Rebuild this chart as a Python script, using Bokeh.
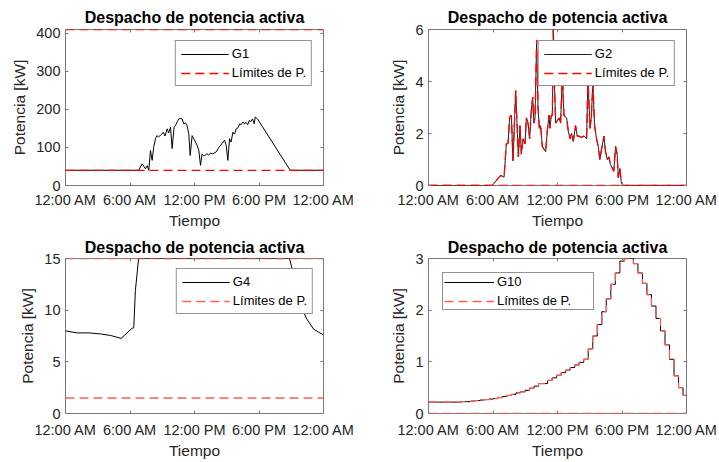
from bokeh.plotting import figure
from bokeh.models import Range1d, FixedTicker, LinearAxis, Legend, LegendItem
from bokeh.layouts import column, row
from bokeh.embed import file_html
from bokeh.resources import INLINE

# ---------------- data ----------------
day_span = [0, 24]
tick_hours = [0, 6, 12, 18, 24]
tick_labels = ["12:00 AM", "6:00 AM", "12:00 PM", "6:00 PM", "12:00 AM"]
title_text = "Despacho de potencia activa"
limit_label = "L\u00edmites de P."

# G1
g1_limits = [40, 410]
g1_hours = [0, 6.8, 7.13, 7.44, 7.6, 7.75, 7.9, 8.06, 8.2, 8.37, 8.5, 8.65, 8.8, 8.95,
            9.1, 9.25, 9.46, 9.6, 9.77, 9.92, 10.1, 10.23, 10.4, 10.54, 10.7, 10.85,
            11.0, 11.15, 11.3, 11.47, 11.6, 11.78, 11.95, 12.1, 12.25, 12.4, 12.56,
            12.7, 12.85, 13.0, 13.15, 13.3, 13.5, 13.7, 14.0, 14.3, 14.55, 14.8, 14.95,
            15.1, 15.26, 15.4, 15.57, 15.72, 15.88, 16.05, 16.2, 16.35, 16.5, 16.65,
            16.8, 16.95, 17.1, 17.25, 17.4, 17.56, 17.65, 17.86, 20.9, 24]
g1_power = [40, 40, 57, 44, 52, 40, 92, 66, 100, 123, 131, 128, 131, 135,
            140, 130, 149, 138, 153, 97, 153, 158, 168, 175, 176, 175,
            162, 165, 158, 136, 79, 131, 122, 114, 105, 92, 53,
            83, 78, 79, 84, 80, 85, 83, 88, 101, 110, 119, 105,
            66, 123, 114, 140, 135, 149, 152, 162, 160, 167, 162,
            166, 160, 171, 168, 175, 162, 180, 175, 40, 40]

# G2 (upper limit follows the available profile)
g2_lower = 0
g2_hours = [0, 5.94, 6.56, 6.72, 7.03, 7.24, 7.40, 7.55, 7.71, 7.86, 8.02, 8.11, 8.27,
            8.36, 8.51, 8.64, 8.79, 8.98, 9.10, 9.26, 9.41, 9.57, 9.69, 9.81, 9.91,
            10.06, 10.19, 10.31, 10.43, 10.59, 10.74, 10.90, 11.05, 11.21, 11.30,
            11.42, 11.52, 11.61, 11.73, 11.83, 11.98, 12.14, 12.29, 12.45, 12.60,
            12.85, 13.00, 13.16, 13.31, 13.47, 13.68, 13.84, 13.99, 14.21, 14.46,
            14.71, 14.83, 15.02, 15.14, 15.29, 15.45, 15.63, 15.79, 15.94, 16.10,
            16.32, 16.47, 16.63, 16.78, 16.93, 17.24, 17.40, 17.55, 17.65, 17.80,
            17.93, 18.08, 24]
g2_power = [0, 0, 0.32, 0.39, 0.32, 1.6, 1.62, 2.63, 2.7, 0.95, 2.7, 3.65, 2.0,
            1.1, 2.3, 1.2, 1.8, 1.6, 2.6, 2.4, 1.8, 2.9, 3.4, 2.4, 2.6,
            5.6, 3.0, 2.2, 2.3, 1.5, 1.4, 1.3, 2.1, 2.7, 2.2,
            2.7, 2.7, 6.0, 3.7, 2.4, 2.5, 2.6, 2.4, 4.3, 2.7,
            2.6, 2.1, 1.8, 2.0, 1.7, 2.3, 1.9, 1.9, 1.85, 1.9,
            1.8, 4.2, 2.2, 2.6, 3.9, 2.3, 1.8, 1.5, 1.0, 1.4,
            1.9, 1.3, 1.0, 1.1, 0.8, 0.55, 1.5, 1.2, 0.3, 0.65,
            0.15, 0, 0]

# G4
g4_limits = [1.5, 15]
g4_hours = [0, 1.08, 2.2, 3.25, 4.2, 5.17, 6.19, 6.35, 6.5, 6.8, 20.84, 21.98,
            22.45, 23.07, 23.5, 24]
g4_power = [8.0, 7.8, 7.8, 7.7, 7.55, 7.27, 8.24, 8.3, 11.9, 15, 15, 10.2,
            9.14, 8.17, 7.9, 7.6]

# G10 (stepwise; upper limit follows the profile)
g10_lower = 0
g10_hours = [0.00, 0.16, 0.58, 1.00, 1.42, 1.84, 2.26, 2.68, 3.10, 3.52, 3.94, 4.36,
             4.78, 5.20, 5.62, 6.04, 6.46, 6.88, 7.30, 7.72, 8.14, 8.56, 8.98, 9.40,
             9.82, 10.24, 10.66, 11.08, 11.50, 11.92, 12.34, 12.76, 13.18, 13.60,
             14.02, 14.44, 14.86, 15.28, 15.70, 16.12, 16.54, 16.96, 17.38, 17.80,
             18.22, 18.64, 19.06, 19.48, 19.90, 20.32, 20.74, 21.16, 21.58, 22.00,
             22.42, 22.84, 23.26, 23.68, 24.00]
g10_power = [0.22, 0.22, 0.22, 0.22, 0.22, 0.22, 0.22, 0.22, 0.23, 0.23, 0.24, 0.25,
             0.26, 0.27, 0.28, 0.29, 0.31, 0.33, 0.35, 0.37, 0.40, 0.42, 0.45, 0.49,
             0.53, 0.58, 0.58, 0.64, 0.69, 0.74, 0.79, 0.84, 0.89, 0.94,
             0.99, 1.05, 1.25, 1.50, 1.72, 1.97, 2.22, 2.50, 2.72, 2.95,
             3.00, 3.00, 2.90, 2.72, 2.52, 2.30, 2.08, 1.84, 1.60, 1.33,
             1.05, 0.73, 0.50, 0.35, 0.35]

# ---------------- style ----------------
FONT = "Liberation Sans"
AX_COL = "#262626"
FRAME_COL = "#7a7a7a"
DASH = "9 5"
RED_TOP = "#ff0000"
RED_BOTTOM = "#ff5c5c"


def make_fig(ymax, yticks, borders, x_standoff, title_standoff):
    left, right, top, bottom, w, h = borders
    p = figure(width=w, height=h, output_backend="svg", toolbar_location=None,
               x_range=Range1d(day_span[0], day_span[1]), y_range=Range1d(0, ymax),
               min_border_left=left, min_border_right=right,
               min_border_top=top, min_border_bottom=bottom,
               x_axis_label="Tiempo", y_axis_label="Potencia [kW]")
    p.title.text = title_text
    p.title.align = "center"
    p.title.text_font = FONT
    p.title.text_font_size = "16px"
    p.title.text_font_style = "bold"
    p.title.text_color = "#000000"
    p.title.standoff = title_standoff
    p.xgrid.visible = False
    p.ygrid.visible = False
    p.outline_line_color = FRAME_COL
    p.outline_line_width = 1
    p.background_fill_color = "white"
    p.border_fill_color = "white"

    p.xaxis.ticker = FixedTicker(ticks=tick_hours)
    p.xaxis.major_label_overrides = {t: l for t, l in zip(tick_hours, tick_labels)}
    p.yaxis.ticker = FixedTicker(ticks=yticks)
    for ax in (p.xaxis[0], p.yaxis[0]):
        ax.axis_line_color = None
        ax.major_tick_line_color = FRAME_COL
        ax.major_tick_in = 3
        ax.major_tick_out = 0
        ax.minor_tick_in = 0
        ax.minor_tick_out = 0
        ax.major_label_text_font = FONT
        ax.major_label_text_font_size = "14.5px"
        ax.major_label_text_color = AX_COL
        ax.axis_label_text_font = FONT
        ax.axis_label_text_font_size = "15.5px"
        ax.axis_label_text_font_style = "normal"
        ax.axis_label_text_color = AX_COL
    p.xaxis.major_label_standoff = x_standoff
    p.xaxis.axis_label_standoff = 1
    p.yaxis.major_label_standoff = 5
    p.yaxis.axis_label_standoff = 5

    # box ticks on top and right (MATLAB style)
    top_ax = LinearAxis(ticker=FixedTicker(ticks=tick_hours),
                        major_label_overrides={t: "" for t in tick_hours})
    right_ax = LinearAxis(ticker=FixedTicker(ticks=yticks),
                          major_label_overrides={t: "" for t in yticks})
    for ax in (top_ax, right_ax):
        ax.axis_line_color = None
        ax.major_tick_line_color = FRAME_COL
        ax.major_tick_in = 3
        ax.major_tick_out = 0
        ax.minor_tick_in = 0
        ax.minor_tick_out = 0
        ax.major_label_standoff = 0
        ax.major_label_text_font_size = "13px"
    p.add_layout(top_ax, "above")
    p.add_layout(right_ax, "right")
    return p


def add_legend(p, items, location, margin, glyph_width=48, label_width=20, padding=5):
    lg = Legend(items=items, location=location, margin=margin,
                glyph_width=glyph_width, glyph_height=14, label_height=14,
                label_width=label_width, label_standoff=3, padding=padding, spacing=4,
                border_line_color=AX_COL, border_line_width=1,
                background_fill_color="white", background_fill_alpha=1.0,
                label_text_font=FONT, label_text_font_size="13px",
                label_text_color="#000000")
    p.add_layout(lg)


# ---- G1 ----
p1 = make_fig(g1_limits[1], [0, 100, 200, 300, 400], (65, 37, 29, 46, 360, 231), 6, 7)
r1 = p1.line(g1_hours, g1_power, line_color="black", line_width=1)
l1a = p1.line(day_span, [g1_limits[0]] * 2, line_color=RED_TOP, line_width=1.3, line_dash=DASH)
l1b = p1.line(day_span, [g1_limits[1]] * 2, line_color=RED_TOP, line_width=1.3, line_dash=DASH)
add_legend(p1, [LegendItem(label="G1", renderers=[r1]),
                LegendItem(label=limit_label, renderers=[l1a])], "top_right", 11)

# ---- G2 ----
p2 = make_fig(6, [0, 2, 4, 6], (68, 33, 29, 46, 359, 231), 6, 7)
r2 = p2.line(g2_hours, g2_power, line_color="#202020", line_width=1)
l2a = p2.line(g2_hours, g2_power, line_color=RED_TOP, line_width=1.3, line_dash=DASH)
l2b = p2.line(day_span, [g2_lower] * 2, line_color=RED_TOP, line_width=1.3, line_dash=DASH)
add_legend(p2, [LegendItem(label="G2", renderers=[r2]),
                LegendItem(label=limit_label, renderers=[l2b])], "top_right", 11)

# ---- G4 ----
p3 = make_fig(g4_limits[1], [0, 5, 10, 15], (65, 37, 27, 49, 360, 231), 8, 6)
r3 = p3.line(g4_hours, g4_power, line_color="black", line_width=1)
l3a = p3.line(day_span, [g4_limits[0]] * 2, line_color=RED_BOTTOM,
              line_width=1.3, line_dash=DASH)
l3b = p3.line(day_span, [g4_limits[1]] * 2, line_color=RED_BOTTOM,
              line_width=1.3, line_dash=DASH)
add_legend(p3, [LegendItem(label="G4", renderers=[r3]),
                LegendItem(label=limit_label, renderers=[l3a])], "top_right", 10)

# ---- G10 ----
p4 = make_fig(3, [0, 1, 2, 3], (68, 33, 27, 49, 359, 231), 8, 6)
r4 = p4.step(g10_hours, g10_power, mode="after", line_color="black", line_width=1)
l4a = p4.step(g10_hours, g10_power, mode="after", line_color=RED_BOTTOM,
              line_width=1.3, line_dash=DASH)
l4b = p4.line(day_span, [g10_lower] * 2, line_color=RED_BOTTOM,
              line_width=1.3, line_dash=DASH)
add_legend(p4, [LegendItem(label="G10", renderers=[r4]),
                LegendItem(label=limit_label, renderers=[l4b])], "top_left", 14,
           glyph_width=50, label_width=95, padding=1)

layout = column(row(p1, p2), row(p3, p4))

with open("out.html", "w") as f:
    f.write(file_html(layout, INLINE))
